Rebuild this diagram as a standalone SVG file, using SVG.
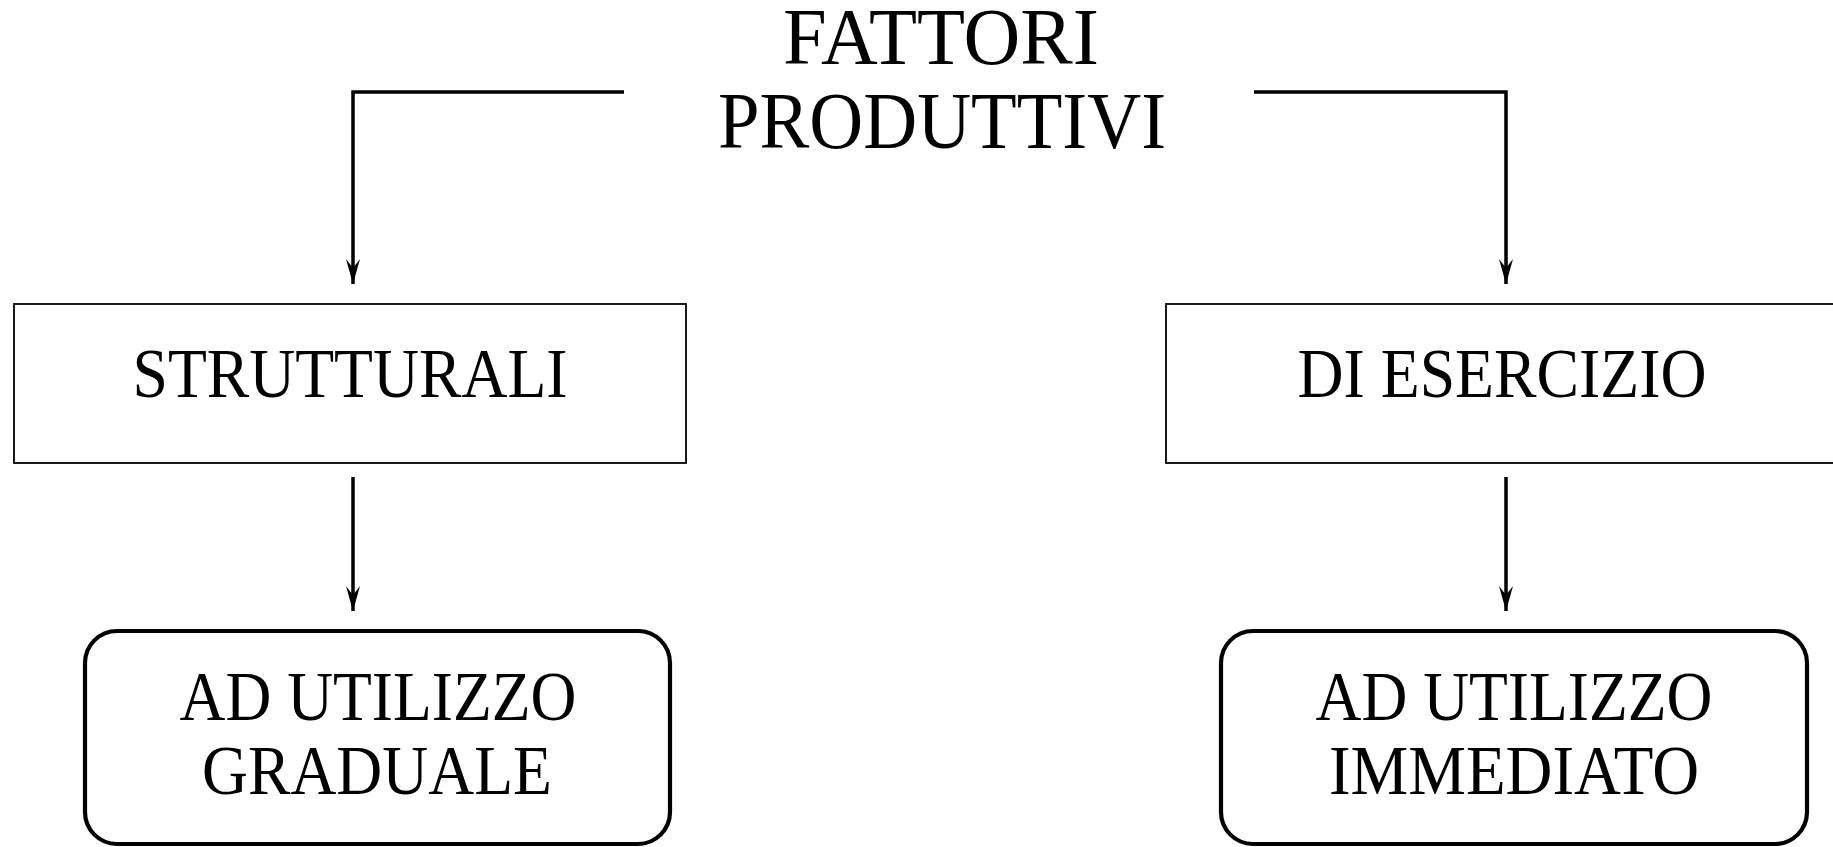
<svg xmlns="http://www.w3.org/2000/svg" width="1833" height="847" viewBox="0 0 1833 847">
<style>
.t{font-family:"Liberation Serif","Times New Roman",serif;fill:#000;text-anchor:middle}
.c{fill:none;stroke:#000;stroke-width:3.5}
.box{fill:#fff;stroke:#000;stroke-width:1.8}
.rbox{fill:#fff;stroke:#000;stroke-width:4.2}
</style>
<defs>
<marker id="ah" markerUnits="userSpaceOnUse" markerWidth="26" markerHeight="16" refX="25" refY="8" orient="auto" viewBox="0 0 26 16">
<path d="M25 8 L0 1 L9 8 L0 15 Z" fill="#000"/>
</marker>
</defs>
<rect width="1833" height="847" fill="#fff"/>
<g id="n-fattori">
<text class="t" x="941" y="64" font-size="80" textLength="316" lengthAdjust="spacingAndGlyphs">FATTORI</text>
<text class="t" x="942" y="148" font-size="80" textLength="448" lengthAdjust="spacingAndGlyphs">PRODUTTIVI</text>
</g>
<g id="n-strutturali">
<rect class="box" x="14" y="304" width="672" height="159"/>
<text class="t" x="350" y="397" font-size="69" textLength="435" lengthAdjust="spacingAndGlyphs">STRUTTURALI</text>
</g>
<g id="n-esercizio">
<rect class="box" x="1166" y="304" width="680" height="159"/>
<text class="t" x="1502" y="397" font-size="69" textLength="409" lengthAdjust="spacingAndGlyphs">DI ESERCIZIO</text>
</g>
<g id="n-graduale">
<rect class="rbox" x="85" y="631" width="585" height="213" rx="32"/>
<text class="t" x="378" y="720" font-size="69" textLength="397" lengthAdjust="spacingAndGlyphs">AD UTILIZZO</text>
<text class="t" x="377" y="794" font-size="69" textLength="350" lengthAdjust="spacingAndGlyphs">GRADUALE</text>
</g>
<g id="n-immediato">
<rect class="rbox" x="1221" y="631" width="586" height="213" rx="32"/>
<text class="t" x="1514" y="720" font-size="69" textLength="397" lengthAdjust="spacingAndGlyphs">AD UTILIZZO</text>
<text class="t" x="1514" y="794" font-size="69" textLength="370" lengthAdjust="spacingAndGlyphs">IMMEDIATO</text>
</g>
<g id="connectors">
<path class="c" d="M624 92 H353 V284" marker-end="url(#ah)"/>
<path class="c" d="M1254 92 H1506 V284" marker-end="url(#ah)"/>
<path class="c" d="M353 477 V611" marker-end="url(#ah)"/>
<path class="c" d="M1506 477 V611" marker-end="url(#ah)"/>
</g>
</svg>
